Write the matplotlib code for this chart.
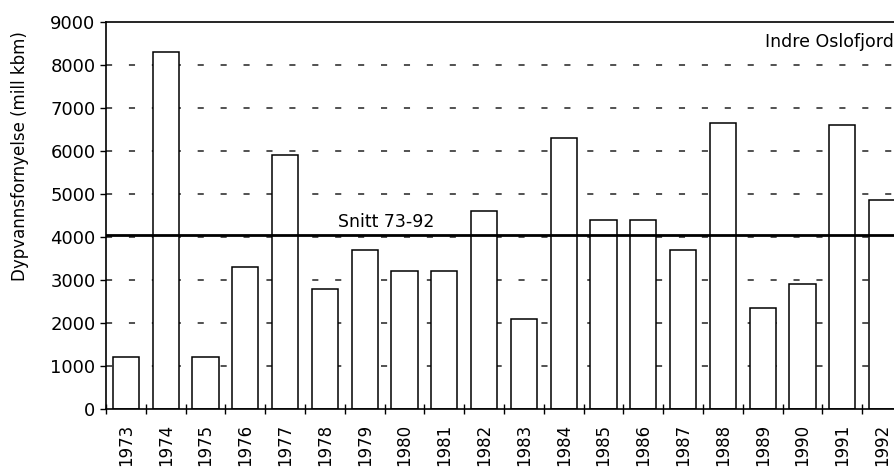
import numpy as np
import matplotlib.pyplot as plt

# Values (mill kbm)
years = [str(y) for y in range(1973, 1993)]
renewal = [1200, 8300, 1200, 3300, 5900, 2800, 3700, 3200, 3200, 4600,
           2100, 6300, 4400, 4400, 3700, 6650, 2350, 2900, 6600, 4850]
snitt = 4040
yticks = [0, 1000, 2000, 3000, 4000, 5000, 6000, 7000, 8000, 9000]

fig = plt.figure(figsize=(8.94, 4.70), dpi=100)
# axes runs past the right edge on purpose, the original scan is cropped there
ax = fig.add_axes([0.1186, 0.130, 0.8904, 0.823])

x = np.arange(len(years))
ax.bar(x, renewal, width=0.66, color='white', edgecolor='black', linewidth=1.1, zorder=2)

# dashed grid, hidden behind bars
for v in yticks[1:-1]:
    ax.axhline(v, color='#222222', linewidth=1.1, linestyle=(0, (4, 11)), zorder=1)

# average line
ax.axhline(snitt, color='black', linewidth=2.0, zorder=3)
ax.text(6.55, snitt + 90, 'Snitt 73-92', ha='center', va='bottom', fontsize=12.5)
ax.text(19.3, 8530, 'Indre Oslofjord', ha='right', va='center', fontsize=12.5)

ax.set_xlim(-0.5, len(years) - 0.5)
ax.set_ylim(0, 9000)
ax.set_yticks(yticks)
ax.set_yticklabels([str(v) for v in yticks], fontsize=13)
ax.tick_params(axis='y', direction='out', length=4.5, width=1.0, pad=3)

# ticks between the bars, labels centred on them
ax.set_xticks(np.arange(len(years) + 1) - 0.5)
ax.set_xticklabels([])
ax.tick_params(axis='x', which='major', direction='inout', length=7, width=1.0)
ax.set_xticks(x, minor=True)
ax.set_xticklabels(years, minor=True, rotation=90, fontsize=12)
ax.tick_params(axis='x', which='minor', length=0, pad=11)

ax.set_ylabel('Dypvannsfornyelse (mill kbm)', fontsize=12)
ax.yaxis.set_label_coords(-0.097, 0.654)

for s in ax.spines.values():
    s.set_linewidth(1.2)

fig.savefig('out.png', dpi=100)
